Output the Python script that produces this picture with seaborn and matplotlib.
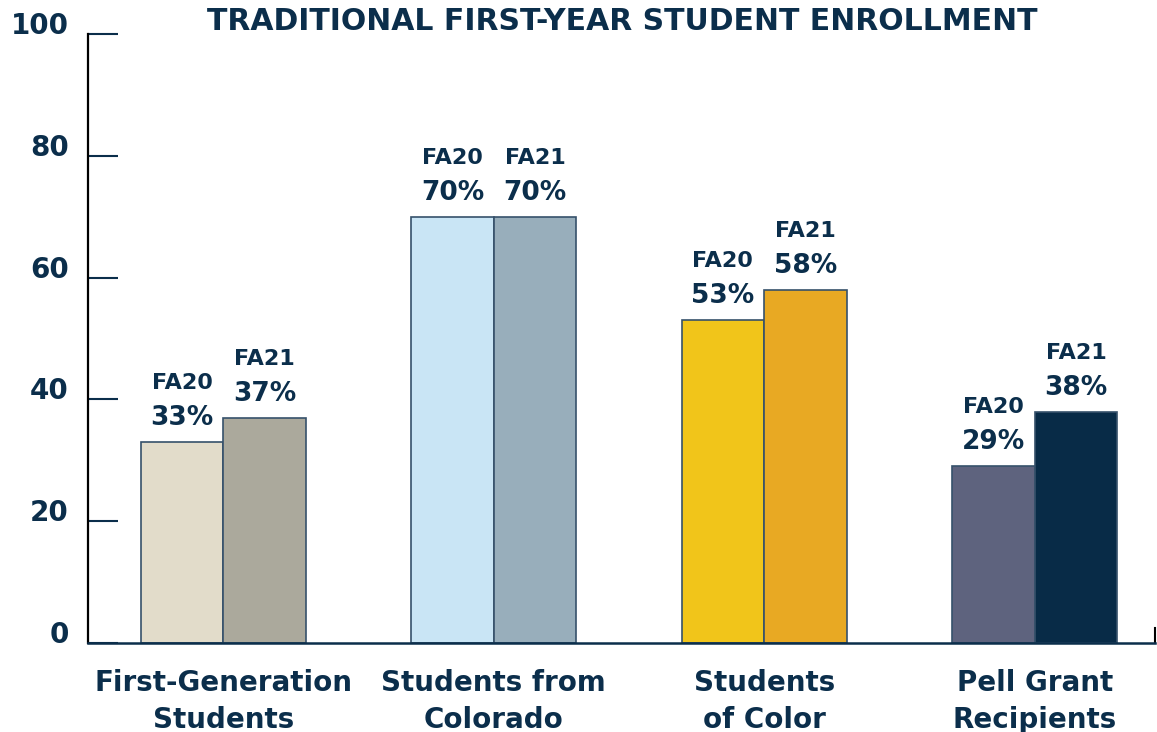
import numpy as np
import pandas as pd
import seaborn as sns
from matplotlib import pyplot as plt
from matplotlib import transforms

categories = ["First-Generation\nStudents", "Students from\nColorado", "Students\nof Color", "Pell Grant\nRecipients"]
terms = ["FA20", "FA21"]
fa20 = [33, 70, 53, 29]
fa21 = [37, 70, 58, 38]
yticks = [0, 20, 40, 60, 80, 100]
title = "TRADITIONAL FIRST-YEAR STUDENT ENROLLMENT"

# one colour pair per group (FA20, FA21)
bar_colors = [("#E2DCCA", "#ABA99C"), ("#C9E5F5", "#98AEBB"),
              ("#F1C51A", "#E8A923"), ("#5E637E", "#082B47")]
navy = "#0B2E4B"
edge = "#36516B"

sns.set_style("white")
plt.rcParams['font.family'] = ['DejaVu Sans']

df = pd.DataFrame({
    "group": categories * 2,
    "term": [terms[0]] * len(categories) + [terms[1]] * len(categories),
    "value": fa20 + fa21,
})

fig = plt.figure(figsize=(11.57, 7.32), dpi=100)
ax = fig.add_axes([88 / 1157, 1 - 643 / 732, (1155 - 88) / 1157, (643 - 34) / 732])

sns.barplot(data=df, x="group", y="value", hue="term", order=categories, hue_order=terms,
            width=0.61, gap=0, linewidth=1.2, edgecolor=edge, legend=False, ax=ax)

for j, cont in enumerate(ax.containers):
    for i, bar in enumerate(cont):
        bar.set_facecolor(bar_colors[i][j])
        h = bar.get_height()
        cx = bar.get_x() + bar.get_width() / 2
        ax.annotate(f"{h:.0f}%", (cx, h), xytext=(0, 24), textcoords="offset pixels",
                    ha="center", va="center", fontsize=19, fontweight="bold", color=navy)
        ax.annotate(terms[j], (cx, h), xytext=(0, 59), textcoords="offset pixels",
                    ha="center", va="center", fontsize=16, fontweight="bold", color=navy)

ax.set_ylim(0, 100)
ax.set_xlim(-0.5, 3.445)
ax.set_yticks(yticks)
ax.set_xlabel("")
ax.set_ylabel("")

ax.tick_params(axis="y", left=True, direction="in", length=21.6, width=1.5, color=navy, pad=14,
               labelsize=20, labelcolor=navy)
for lab in ax.get_yticklabels():
    lab.set_fontweight("bold")
    lab.set_transform(lab.get_transform() + transforms.ScaledTranslation(0, 0.11, fig.dpi_scale_trans))

ax.tick_params(axis="x", length=0, pad=19, labelsize=20, labelcolor=navy)
for lab in ax.get_xticklabels():
    lab.set_fontweight("bold")
    lab.set_linespacing(1.4)

ax.spines["top"].set_visible(False)
ax.spines["left"].set_color("black")
ax.spines["left"].set_linewidth(1.6)
ax.spines["bottom"].set_color(navy)
ax.spines["bottom"].set_linewidth(1.8)
ax.spines["right"].set_color("black")
ax.spines["right"].set_linewidth(1.5)
ax.spines["right"].set_bounds(0, 2.5)

fig.text(622 / 1157, 1 - 22 / 732, title, ha="center", va="center",
         fontsize=21.5, fontweight="bold", color=navy)

plt.savefig("out.png", dpi=100)
